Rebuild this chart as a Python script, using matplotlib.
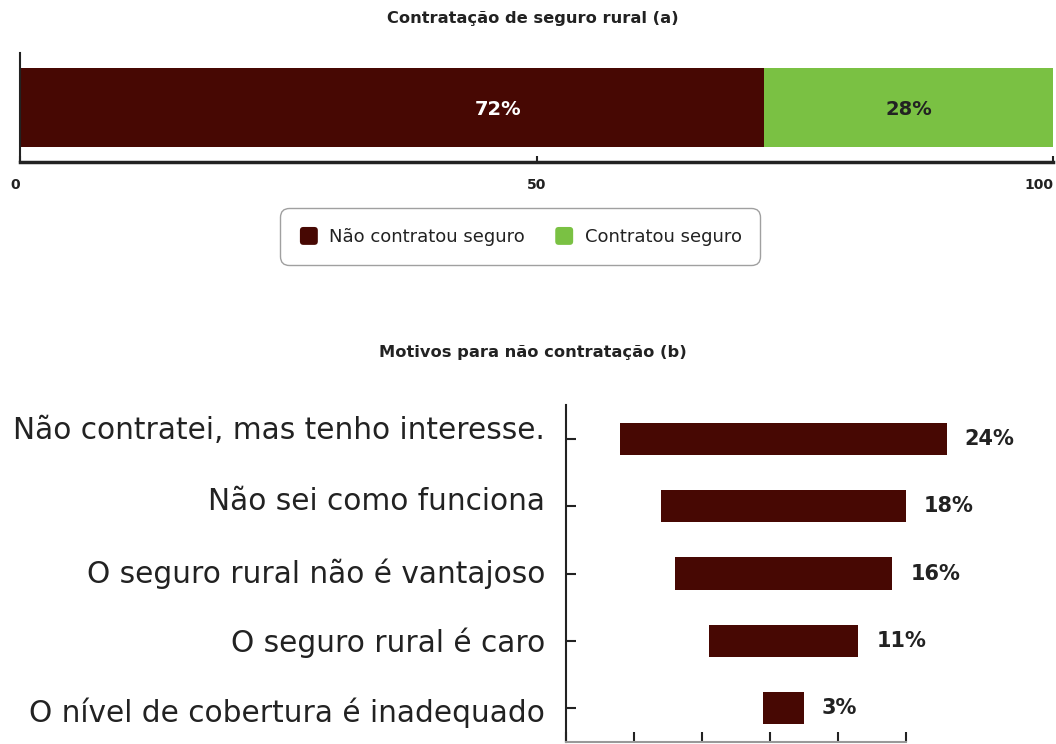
import matplotlib
matplotlib.use("Agg")
import matplotlib.pyplot as plt
from matplotlib.patches import Patch, FancyBboxPatch
from matplotlib.legend_handler import HandlerPatch
from matplotlib.transforms import ScaledTranslation

# ---- data ----
status_labels = ["Não contratou seguro", "Contratou seguro"]
status_values = [72, 28]
status_colors = ["#470803", "#7AC143"]
status_text_colors = ["white", "#222222"]
status_label_frac = [0.643, 0.5]  # where inside each segment the % label sits

reasons = [
    "Não contratei, mas tenho interesse.",
    "Não sei como funciona",
    "O seguro rural não é vantajoso",
    "O seguro rural é caro",
    "O nível de cobertura é inadequado",
]
reason_values = [24, 18, 16, 11, 3]
reason_center = 16
reason_label_dy_px = [11, 8, 3, 1, -1]
top_ticks = [0, 50, 100]
bottom_ticks = [0, 5, 10, 15, 20, 25]

DARK = "#222222"
plt.rcParams["font.family"] = ["DejaVu Sans"]

W, H = 1056, 744
fig = plt.figure(figsize=(W / 100, H / 100), dpi=100)

def fx(px):
    return px / W

def fy(py):
    return 1 - py / H

# ---- top chart ----
ax1 = fig.add_axes([fx(20), fy(161.7), fx(1053) - fx(20), fy(52.7) - fy(161.7)])
left = 0
for v, c, tc, fr in zip(status_values, status_colors, status_text_colors, status_label_frac):
    ax1.barh(0, v, left=left, height=1.45, color=c, edgecolor="none")
    ax1.text(left + v * fr, -0.05, f"{v}%", ha="center", va="center",
             color=tc, fontsize=14, fontweight="bold")
    left += v
ax1.set_xlim(0, 100)
ax1.set_ylim(-1, 1)
ax1.set_yticks([])
ax1.set_xticks(top_ticks)
ax1.set_xticklabels([str(t) for t in top_ticks], fontsize=10, fontweight="bold", color=DARK)
ax1.tick_params(axis="x", direction="in", length=4, width=1.5, color=DARK, pad=12)
for lab, ha in zip(ax1.get_xticklabels(), ["right", "center", "right"]):
    lab.set_ha(ha)
for s in ["top", "right"]:
    ax1.spines[s].set_visible(False)
for s in ["left", "bottom"]:
    ax1.spines[s].set_color(DARK)
ax1.spines["left"].set_linewidth(1.5)
ax1.spines["bottom"].set_linewidth(2.5)
fig.text(fx(533), fy(18), "Contratação de seguro rural (a)", ha="center", va="center",
         fontsize=11.7, fontweight="bold", color=DARK)


class RoundHandler(HandlerPatch):
    def create_artists(self, legend, orig_handle, xdescent, ydescent, width, height,
                       fontsize, trans):
        s = min(width, height)
        x0 = -xdescent + (width - s) / 2
        y0 = -ydescent + (height - s) / 2
        p = FancyBboxPatch((x0, y0), s, s, boxstyle="round,pad=0,rounding_size=2.5",
                           facecolor=orig_handle.get_facecolor(), edgecolor="none",
                           transform=trans)
        return [p]


handles = [Patch(facecolor=c) for c in status_colors]
leg = fig.legend(handles, status_labels, loc="center", bbox_to_anchor=(fx(520), fy(236.5)),
                 ncol=2, fontsize=13, frameon=True, fancybox=True, borderpad=1.05,
                 handletextpad=0.55, columnspacing=1.6, handlelength=1.15,
                 handleheight=1.15, borderaxespad=0,
                 handler_map={Patch: RoundHandler()})
leg.get_frame().set_edgecolor("#888888")
leg.get_frame().set_linewidth(1)
leg.get_frame().set_boxstyle("round,pad=0,rounding_size=0.5")
for t in leg.get_texts():
    t.set_color(DARK)

# ---- bottom chart ----
ax2 = fig.add_axes([fx(566), fy(742), fx(906) - fx(566), fy(405) - fy(742)])
ypos = list(range(len(reasons)))
lefts = [reason_center - v / 2 for v in reason_values]
ax2.barh(ypos, reason_values, left=lefts, height=0.48, color=status_colors[0],
         edgecolor="none", clip_on=False)
for y, l, v in zip(ypos, lefts, reason_values):
    ax2.annotate(f"{v}%", xy=(l + v, y), xytext=(13, 0), textcoords="offset points",
                 ha="left", va="center", fontsize=15, fontweight="bold", color=DARK,
                 annotation_clip=False)
ax2.set_xlim(0, 25)
ax2.set_ylim(4.5, -0.5)
ax2.set_yticks(ypos)
ax2.set_yticklabels(reasons, fontsize=21.3, color=DARK)
ax2.set_xticks(bottom_ticks)
ax2.set_xticklabels([])
ax2.tick_params(axis="y", direction="in", length=7, width=1.5, color=DARK, pad=15)
ax2.tick_params(axis="x", direction="in", length=7, width=1.5, color=DARK)
for tick, dy in zip(ax2.yaxis.get_major_ticks(), reason_label_dy_px):
    lab = tick.label1
    lab.set_transform(lab.get_transform() + ScaledTranslation(0, dy / 100, fig.dpi_scale_trans))
for s in ["top", "right"]:
    ax2.spines[s].set_visible(False)
ax2.spines["left"].set_color(DARK)
ax2.spines["left"].set_linewidth(1.5)
ax2.spines["bottom"].set_color("#999999")
ax2.spines["bottom"].set_linewidth(1.5)
fig.text(fx(533), fy(353), "Motivos para não contratação (b)", ha="center", va="center",
         fontsize=11.7, fontweight="bold", color=DARK)

fig.savefig("out.png", dpi=100)
